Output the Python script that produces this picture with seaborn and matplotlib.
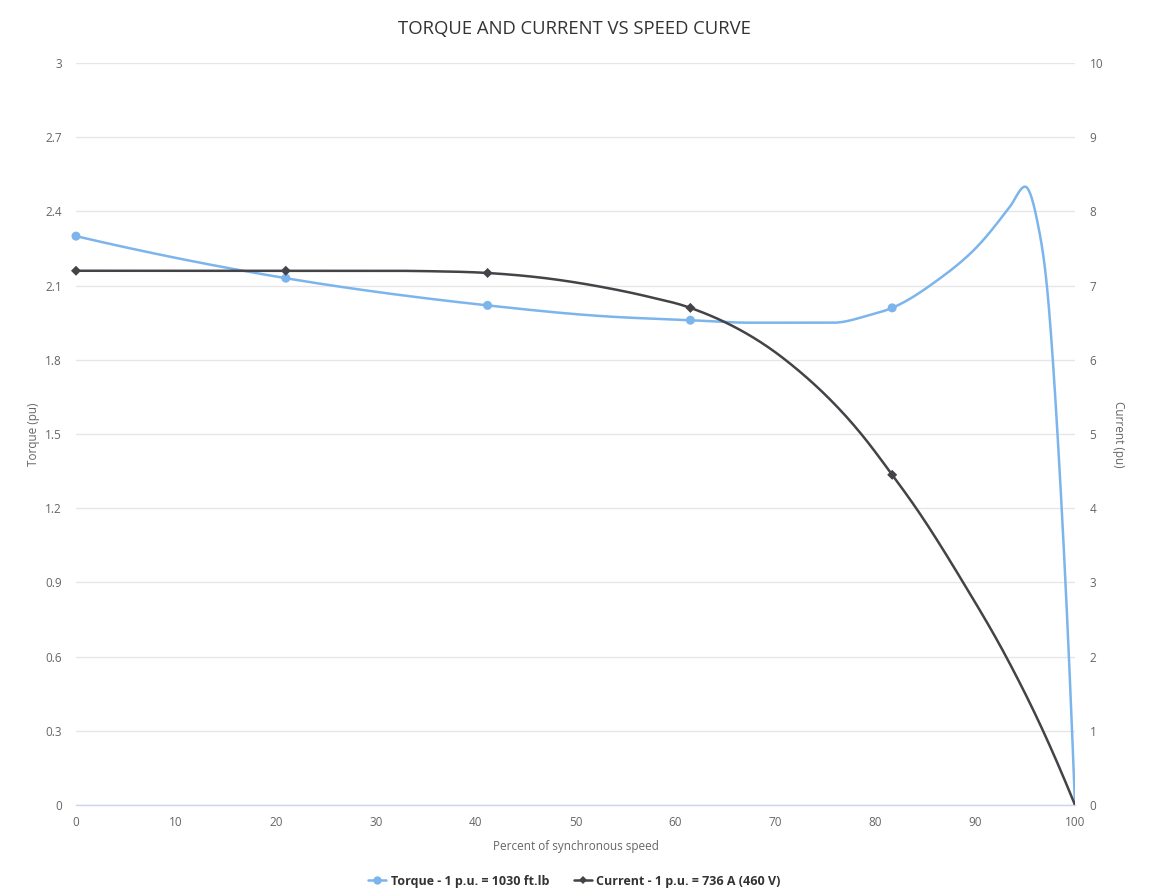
import numpy as np
import pandas as pd
import matplotlib
matplotlib.use("Agg")
import matplotlib.pyplot as plt
from matplotlib.lines import Line2D
import seaborn as sns

# ---- data ----
torque_speed = [0, 21.0, 41.2, 52.5, 61.5, 67.5, 75.8, 79.2, 81.7, 86.0, 90.5,
                93.5, 95.0, 96.2, 97.2, 98.4, 99.4, 100.0]
torque_pu = [2.30, 2.13, 2.02, 1.977, 1.96, 1.950, 1.950, 1.978, 2.01, 2.115, 2.27,
             2.42, 2.50, 2.365, 2.093, 1.395, 0.59, 0.0]
torque_marked = [True, True, True, False, True, False, False, False, True, False, False,
                 False, False, False, False, False, False, False]

current_speed = [0, 21.0, 30.0, 35.0, 41.2, 47.0, 52.5, 57.0, 61.5, 71.0,
                 78.6, 81.7, 84.1, 88.8, 93.1, 96.8, 100.0]
current_pu = [7.20, 7.20, 7.20, 7.195, 7.17, 7.10, 6.985, 6.86, 6.70, 6.0,
              5.0, 4.45, 4.0, 3.0, 2.0, 1.0, 0.0]
current_marked = [True, True, False, False, True, False, False, False, True, False,
                  False, True, False, False, False, False, False]

x_ticks = [0, 10, 20, 30, 40, 50, 60, 70, 80, 90, 100]
left_ticks = [0, 0.3, 0.6, 0.9, 1.2, 1.5, 1.8, 2.1, 2.4, 2.7, 3]
right_ticks = [0, 1, 2, 3, 4, 5, 6, 7, 8, 9, 10]

TORQUE_COLOR = "#7cb5ec"
CURRENT_COLOR = "#434348"


def smooth_path(xs, ys, n=40):
    """Smooth shape-preserving cubic Hermite curve through the given points."""
    x = np.asarray(xs, float); y = np.asarray(ys, float)
    h = np.diff(x)
    delta = np.diff(y) / h
    m = len(x)
    d = np.zeros(m)
    for k in range(1, m - 1):
        a, b = delta[k - 1], delta[k]
        if a * b <= 0:
            d[k] = 0.0
            continue
        dk = (h[k] * a + h[k - 1] * b) / (h[k - 1] + h[k])
        lim = 3 * min(abs(a), abs(b))
        if np.sign(dk) != np.sign(a):
            dk = 0.0
        elif abs(dk) > lim:
            dk = np.sign(dk) * lim
        d[k] = dk

    def end(h0, h1, m0, m1):
        dd = ((2 * h0 + h1) * m0 - h0 * m1) / (h0 + h1)
        if np.sign(dd) != np.sign(m0):
            dd = 0.0
        elif np.sign(m0) != np.sign(m1) and abs(dd) > abs(3 * m0):
            dd = 3 * m0
        return dd

    d[0] = end(h[0], h[1], delta[0], delta[1])
    d[-1] = end(h[-1], h[-2], delta[-1], delta[-2])
    outx, outy = [x[0]], [y[0]]
    t = np.linspace(0, 1, n)[1:]
    for k in range(m - 1):
        h00 = 2 * t ** 3 - 3 * t ** 2 + 1
        h10 = t ** 3 - 2 * t ** 2 + t
        h01 = -2 * t ** 3 + 3 * t ** 2
        h11 = t ** 3 - t ** 2
        outx.extend(x[k] + t * h[k])
        outy.extend(h00 * y[k] + h10 * h[k] * d[k] + h01 * y[k + 1] + h11 * h[k] * d[k + 1])
    return np.array(outx), np.array(outy)


sns.set_theme(style="white")
plt.rcParams["font.family"] = ["Open Sans", "DejaVu Sans"]

fig = plt.figure(figsize=(11.49, 8.96), dpi=100)
ax = fig.add_axes([76 / 1149, 1 - 805 / 896, (1075 - 76) / 1149, (805 - 63) / 896])
ax2 = ax.twinx()

ax.set_ylim(0, 3)
ax.set_yticks(left_ticks)
ax.set_yticklabels([f"{v:g}" for v in left_ticks])
ax.grid(axis="y", color="#e6e6e6", linewidth=1)
ax.grid(axis="x", visible=False)
ax.set_xlim(0, 100)
ax.set_xticks(x_ticks)
ax2.set_ylim(0, 10)
ax2.set_yticks(right_ticks)
ax2.grid(False)

for a in (ax, ax2):
    for s in a.spines.values():
        s.set_visible(False)
ax.spines["bottom"].set_visible(True)
ax.spines["bottom"].set_color("#ccd6eb")
ax.spines["bottom"].set_linewidth(1)

ax.tick_params(axis="x", colors="#ccd6eb", length=6, width=1, labelcolor="#666666",
               labelsize=8.5, pad=2)
ax.tick_params(axis="y", length=0, labelcolor="#666666", labelsize=8.5, pad=10)
ax2.tick_params(axis="y", length=0, labelcolor="#666666", labelsize=8.5, pad=10.5)

# torque curve
tx, ty = smooth_path(torque_speed, torque_pu)
sns.lineplot(x=tx, y=ty, ax=ax, sort=False, estimator=None, color=TORQUE_COLOR,
             linewidth=1.8, zorder=3)
tm = pd.DataFrame({"speed": torque_speed, "torque": torque_pu, "m": torque_marked})
tm = tm[tm["m"]]
sns.scatterplot(data=tm, x="speed", y="torque", ax=ax, color=TORQUE_COLOR, marker="o",
                s=42, edgecolor="none", zorder=4, clip_on=False)

# current curve
cx, cy = smooth_path(current_speed, current_pu)
sns.lineplot(x=cx, y=cy, ax=ax2, sort=False, estimator=None, color=CURRENT_COLOR,
             linewidth=1.8, zorder=3)
cm = pd.DataFrame({"speed": current_speed, "current": current_pu, "m": current_marked})
cm = cm[cm["m"]]
sns.scatterplot(data=cm, x="speed", y="current", ax=ax2, color=CURRENT_COLOR, marker="D",
                s=26, edgecolor="none", zorder=4, clip_on=False)

ax.set_xlabel("Percent of synchronous speed", color="#666666", fontsize=8.5, labelpad=8)
ax.set_ylabel("Torque (pu)", color="#666666", fontsize=8.5, labelpad=4)
ax2.set_ylabel("Current (pu)", color="#666666", fontsize=8.5, rotation=270, labelpad=16)

fig.text(0.5, 1 - 29 / 896, "TORQUE AND CURRENT VS SPEED CURVE", ha="center", va="center",
         fontsize=13.3, color="#333333")

handles = [
    Line2D([0], [0], color=TORQUE_COLOR, marker="o", markersize=6, linewidth=1.8,
           markeredgewidth=0),
    Line2D([0], [0], color=CURRENT_COLOR, marker="D", markersize=4.5, linewidth=1.8,
           markeredgewidth=0),
]
labels = ["Torque - 1 p.u. = 1030 ft.lb", "Current - 1 p.u. = 736 A (460 V)"]
leg = fig.legend(handles, labels, loc="center", bbox_to_anchor=(0.5, 1 - 881 / 896), ncol=2,
                 frameon=False, handlelength=1.4, handletextpad=0.4, columnspacing=2.0,
                 prop={"weight": "bold", "size": 9})
for t in leg.get_texts():
    t.set_color("#333333")

fig.savefig("out.png", dpi=100, facecolor="white")
